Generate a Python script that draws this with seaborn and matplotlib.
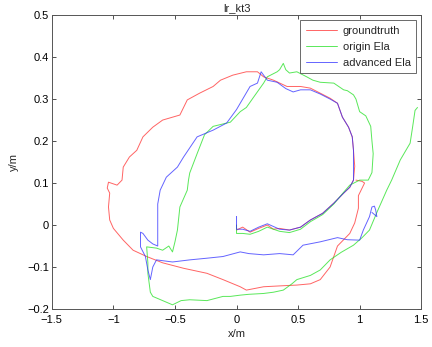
import matplotlib
matplotlib.use("Agg")
import matplotlib.pyplot as plt
import pandas as pd
import seaborn as sns

sns.set_style("white")
plt.rcParams["font.family"] = ["Liberation Sans", "DejaVu Sans"]

# trajectories (metres)
gt_x = [0.0, 0.0, 0.05, 0.11, 0.18, 0.25, 0.3, 0.35, 0.43, 0.52, 0.6, 0.7, 0.79, 0.87, 0.92,
        0.95, 0.96, 0.95, 0.94, 0.91, 0.86, 0.82, 0.76, 0.68, 0.6, 0.52, 0.41, 0.3, 0.22, 0.17,
        0.08, -0.03, -0.13, -0.19, -0.3, -0.4, -0.46, -0.6, -0.68, -0.76, -0.81, -0.87, -0.92,
        -0.93, -0.97, -1.04, -1.05, -1.03, -1.04, -1.03, -1.0, -0.92, -0.84, -0.73, -0.6, -0.43,
        -0.24, -0.11, 0.03, 0.08, 0.22, 0.35, 0.49, 0.6, 0.68, 0.76, 0.82, 0.92, 0.96, 0.99,
        0.99, 1.04, 1.02, 0.97]
gt_y = [0.0, -0.012, -0.005, -0.017, -0.008, 0.0, -0.01, -0.008, -0.012, -0.005, 0.012, 0.028,
        0.052, 0.076, 0.09, 0.107, 0.14, 0.178, 0.21, 0.233, 0.257, 0.29, 0.302, 0.314, 0.326,
        0.33, 0.33, 0.345, 0.353, 0.365, 0.365, 0.357, 0.345, 0.33, 0.314, 0.298, 0.262, 0.25,
        0.233, 0.21, 0.178, 0.162, 0.138, 0.107, 0.095, 0.102, 0.088, 0.076, 0.043, 0.012,
        -0.008, -0.036, -0.06, -0.075, -0.09, -0.103, -0.115, -0.13, -0.147, -0.155, -0.147,
        -0.145, -0.143, -0.14, -0.13, -0.1, -0.05, -0.02, 0.005, 0.04, 0.07, 0.1, 0.104, 0.107]

ela_x = [0.0, 0.0, 0.05, 0.11, 0.18, 0.25, 0.35, 0.43, 0.52, 0.6, 0.7, 0.79, 0.87, 0.92, 1.0,
         1.07, 1.1, 1.11, 1.1, 1.09, 1.05, 1.0, 0.97, 0.95, 0.9, 0.87, 0.79, 0.68, 0.62, 0.57,
         0.49, 0.43, 0.4, 0.38, 0.35, 0.33, 0.25, 0.22, 0.14, 0.08, 0.03, -0.05, -0.19, -0.26,
         -0.32, -0.38, -0.39, -0.4, -0.46, -0.48, -0.5, -0.52, -0.55, -0.6, -0.65, -0.73, -0.72,
         -0.72, -0.7, -0.68, -0.6, -0.52, -0.45, -0.38, -0.24, -0.11, -0.05, 0.03, 0.1, 0.22,
         0.3, 0.38, 0.45, 0.49, 0.6, 0.68, 0.76, 0.85, 0.95, 1.02, 1.08, 1.14, 1.22, 1.26, 1.33,
         1.41, 1.43, 1.45, 1.47]
ela_y = [0.0, -0.02, -0.02, -0.022, -0.015, -0.005, -0.015, -0.018, -0.01, 0.008, 0.025, 0.05,
         0.078, 0.095, 0.107, 0.107, 0.125, 0.17, 0.2, 0.235, 0.26, 0.27, 0.3, 0.31, 0.32,
         0.322, 0.338, 0.34, 0.345, 0.353, 0.365, 0.362, 0.37, 0.385, 0.37, 0.365, 0.353, 0.338,
         0.305, 0.28, 0.27, 0.245, 0.235, 0.215, 0.17, 0.124, 0.107, 0.083, 0.043, -0.012,
         -0.04, -0.064, -0.05, -0.06, -0.055, -0.052, -0.09, -0.115, -0.16, -0.17, -0.18, -0.19,
         -0.18, -0.178, -0.18, -0.17, -0.17, -0.167, -0.165, -0.163, -0.16, -0.155, -0.14,
         -0.13, -0.12, -0.107, -0.083, -0.065, -0.048, -0.03, -0.012, 0.03, 0.083, 0.107, 0.155,
         0.195, 0.233, 0.273, 0.28]

adv_x = [0.0, 0.0, 0.0, 0.05, 0.11, 0.18, 0.25, 0.35, 0.43, 0.52, 0.6, 0.7, 0.79, 0.87, 0.92,
         0.95, 0.95, 0.95, 0.94, 0.91, 0.86, 0.82, 0.76, 0.68, 0.6, 0.52, 0.46, 0.4, 0.33, 0.25,
         0.2, 0.17, 0.11, 0.05, 0.0, -0.08, -0.19, -0.32, -0.43, -0.48, -0.57, -0.62, -0.64,
         -0.64, -0.64, -0.68, -0.72, -0.76, -0.78, -0.78, -0.74, -0.72, -0.7, -0.68, -0.65,
         -0.52, -0.38, -0.24, -0.11, 0.03, 0.1, 0.22, 0.35, 0.46, 0.54, 0.68, 0.82, 0.9, 1.0,
         1.03, 1.08, 1.1, 1.12, 1.13, 1.14, 1.1]
adv_y = [0.0, 0.02, -0.01, -0.01, -0.015, -0.005, 0.003, -0.01, -0.012, -0.005, 0.012, 0.028,
         0.052, 0.076, 0.09, 0.107, 0.14, 0.178, 0.21, 0.233, 0.257, 0.29, 0.3, 0.312, 0.322,
         0.322, 0.317, 0.325, 0.34, 0.345, 0.365, 0.338, 0.33, 0.3, 0.275, 0.243, 0.226, 0.21,
         0.162, 0.138, 0.114, 0.083, 0.05, 0.0, -0.05, -0.045, -0.036, -0.02, -0.017, -0.052,
         -0.075, -0.107, -0.13, -0.1, -0.083, -0.088, -0.083, -0.079, -0.075, -0.064, -0.068,
         -0.071, -0.068, -0.071, -0.048, -0.04, -0.03, -0.035, -0.036, -0.012, 0.02, 0.043,
         0.045, 0.036, 0.02, 0.03]

series_names = ["groundtruth", "origin Ela", "advanced Ela"]
colors = ["#ff3030", "#22e022", "#3030ff"]

frames = []
for name, xs, ys in zip(series_names, [gt_x, ela_x, adv_x], [gt_y, ela_y, adv_y]):
    frames.append(pd.DataFrame({"x": xs, "y": ys, "series": name}))
df = pd.concat(frames, ignore_index=True)

fig = plt.figure(figsize=(4.32, 3.47), dpi=100)
ax = fig.add_axes([0.120, 0.1095, 0.855, 0.847])

sns.lineplot(data=df, x="x", y="y", hue="series", hue_order=series_names,
             palette=dict(zip(series_names, colors)), sort=False, estimator=None,
             linewidth=0.7, alpha=0.75, ax=ax)

ax.set_xlim(-1.5, 1.5)
ax.set_ylim(-0.2, 0.5)
ax.set_xticks([-1.5, -1, -0.5, 0, 0.5, 1, 1.5])
ax.set_xticklabels(["\u22121.5", "\u22121", "\u22120.5", "0", "0.5", "1", "1.5"])
ax.set_yticks([-0.2, -0.1, 0, 0.1, 0.2, 0.3, 0.4, 0.5])
ax.set_yticklabels(["\u22120.2", "\u22120.1", "0", "0.1", "0.2", "0.3", "0.4", "0.5"])
ax.tick_params(direction="in", length=3, width=0.6, labelsize=8, top=True, right=True,
               bottom=True, left=True, colors="#333333", labelcolor="black", pad=2)
ax.tick_params(axis="x", pad=4)
for s in ax.spines.values():
    s.set_color("#555555")
    s.set_linewidth(0.7)

ax.set_title("lr_kt3", fontsize=8, pad=3)
ax.set_xlabel("x/m", fontsize=8, labelpad=3)
ax.set_ylabel("y/m", fontsize=8, labelpad=6)

leg = ax.legend(loc="upper right", fontsize=8, frameon=True, fancybox=False,
                borderpad=0.5, labelspacing=0.55, handlelength=2.8, handletextpad=0.5,
                borderaxespad=0.45)
leg.get_frame().set_edgecolor("#444444")
leg.get_frame().set_linewidth(0.7)
leg.set_title(None)

fig.savefig("out.png", dpi=100)
